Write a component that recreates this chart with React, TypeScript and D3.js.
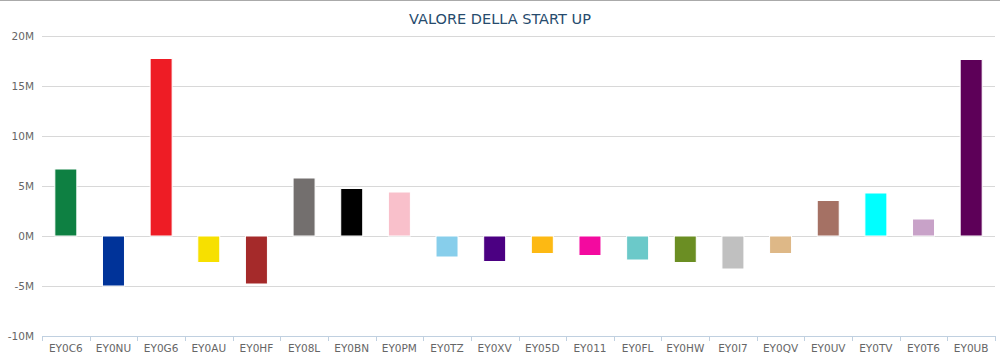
import { useEffect, useRef } from 'react';
import * as d3 from 'd3';

const WIDTH = 1000;
const HEIGHT = 361;
const MARGIN = { top: 36, right: 5, bottom: 25, left: 42 };

const categories = [
  'EY0C6', 'EY0NU', 'EY0G6', 'EY0AU', 'EY0HF', 'EY08L', 'EY0BN', 'EY0PM', 'EY0TZ', 'EY0XV',
  'EY05D', 'EY011', 'EY0FL', 'EY0HW', 'EY0I7', 'EY0QV', 'EY0UV', 'EY0TV', 'EY0T6', 'EY0UB',
];
// values in millions
const values = [
  6.7, -5.0, 17.75, -2.65, -4.8, 5.8, 4.75, 4.4, -2.1, -2.55,
  -1.75, -1.95, -2.4, -2.65, -3.3, -1.75, 3.55, 4.3, 1.7, 17.65,
];
const colors = [
  '#0e8042', '#003399', '#ee1c25', '#f7e000', '#a52a2a', '#736f6e', '#000000', '#f9c0cb', '#87ceeb', '#4b0082',
  '#fdb913', '#f30a9f', '#6bc9c9', '#6b8e23', '#c0c0c0', '#deb887', '#a57164', '#00ffff', '#c8a2c8', '#5d0058',
];
const yTicks = [-10, -5, 0, 5, 10, 15, 20];
const title = 'VALORE DELLA START UP';

const FONT = '"DejaVu Sans", Verdana, sans-serif';

const App = () => {
  const axesRef = useRef(null);
  const boundsWidth = WIDTH - MARGIN.left - MARGIN.right;
  const boundsHeight = HEIGHT - MARGIN.top - MARGIN.bottom;

  const xScale = d3.scaleBand().domain(categories).range([0, boundsWidth]).paddingInner(0).paddingOuter(0);
  const yScale = d3.scaleLinear().domain([-10, 20]).range([boundsHeight, 0]);
  const barWidth = 22;

  useEffect(() => {
    const g = d3.select(axesRef.current);
    g.selectAll('*').remove();

    // x axis
    const xAxis = g.append('g').attr('transform', `translate(0,${boundsHeight})`);
    xAxis
      .append('line')
      .attr('x1', 0)
      .attr('x2', boundsWidth)
      .attr('y1', 0.5)
      .attr('y2', 0.5)
      .attr('stroke', '#c0d0e0');
    const bounds = categories.map((c) => xScale(c) || 0).concat([boundsWidth]);
    xAxis
      .selectAll('line.tick')
      .data(bounds)
      .join('line')
      .attr('class', 'tick')
      .attr('x1', (d) => Math.round(d) + 0.5)
      .attr('x2', (d) => Math.round(d) + 0.5)
      .attr('y1', 0)
      .attr('y2', 5)
      .attr('stroke', '#c0d0e0');
    xAxis
      .selectAll('text')
      .data(categories)
      .join('text')
      .attr('x', (d) => (xScale(d) || 0) + xScale.bandwidth() / 2)
      .attr('y', 16)
      .attr('text-anchor', 'middle')
      .attr('fill', '#666')
      .style('font-family', FONT)
      .style('font-size', '10.5px')
      .text((d) => d);

    // y axis labels
    g.selectAll('text.ylab')
      .data(yTicks)
      .join('text')
      .attr('class', 'ylab')
      .attr('x', -8)
      .attr('y', (d) => yScale(d) + 4)
      .attr('text-anchor', 'end')
      .attr('fill', '#666')
      .style('font-family', FONT)
      .style('font-size', '10.5px')
      .text((d) => `${d}M`);
  }, [boundsWidth, boundsHeight]);

  const gridLines = yTicks
    .filter((t) => t !== -10)
    .map((t) => (
      <line
        key={t}
        x1={0}
        x2={boundsWidth}
        y1={Math.round(yScale(t)) + 0.5}
        y2={Math.round(yScale(t)) + 0.5}
        stroke="#d8d8d8"
      />
    ));

  const bars = values.map((v, i) => {
    const x = (xScale(categories[i]) || 0) + xScale.bandwidth() / 2 - barWidth / 2;
    const y0 = yScale(0);
    const y1 = yScale(v);
    return (
      <rect
        key={categories[i]}
        x={x}
        y={Math.min(y0, y1)}
        width={barWidth}
        height={Math.abs(y1 - y0)}
        fill={colors[i]}
        stroke="#fff"
        strokeWidth={1}
      />
    );
  });

  return (
    <svg
      width={WIDTH}
      height={HEIGHT}
      style={{ position: 'absolute', left: 0, top: 0, background: '#fff' }}
    >
      <line x1={0} x2={WIDTH} y1={0.5} y2={0.5} stroke="#aaa" />
      <text
        x={WIDTH / 2}
        y={24}
        textAnchor="middle"
        fill="#274b6d"
        style={{ fontFamily: FONT, fontSize: '14.5px' }}
      >
        {title}
      </text>
      <g transform={`translate(${MARGIN.left},${MARGIN.top})`}>
        {gridLines}
        {bars}
      </g>
      <g ref={axesRef} transform={`translate(${MARGIN.left},${MARGIN.top})`} />
    </svg>
  );
};

export default App;
